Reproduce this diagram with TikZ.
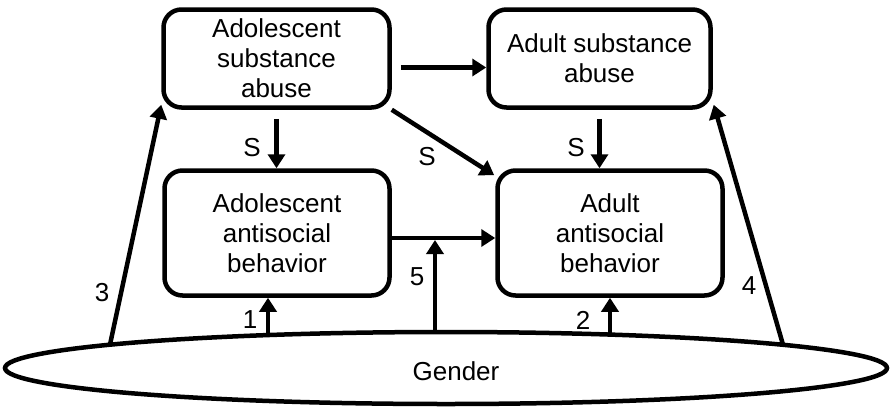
\documentclass[tikz,border=0pt]{standalone}
\usepackage{fontspec}
\setmainfont{Liberation Sans}
\usetikzlibrary{arrows.meta,shapes.geometric,calc}
\begin{document}
\begin{tikzpicture}[x=1pt,y=-1pt,
 box/.style={draw, line width=4.5pt, rounded corners=18pt, align=center, inner sep=0pt, font=\fontsize{26}{30}\selectfont},
 arr/.style={line width=4.5pt, -{Triangle[length=14pt,width=17pt]}},
 lbl/.style={font=\fontsize{26}{30}\selectfont, inner sep=0pt}]
\fill[white] (0,0) rectangle (892,408);
\useasboundingbox (0,0) rectangle (892,408);

\node[box, minimum width=226pt, minimum height=98pt] (A) at (276.5,58.5) {Adolescent\\substance\\abuse};
\node[box, minimum width=222pt, minimum height=98pt] (B) at (599.5,58.5) {Adult substance\\abuse};
\node[box, minimum width=225pt, minimum height=125pt] (C) at (277,233) {Adolescent\\antisocial\\behavior};
\node[box, minimum width=225pt, minimum height=125pt] (D) at (610,233) {Adult\\antisocial\\behavior};
\node[draw, ellipse, line width=4.5pt, minimum width=882pt, minimum height=72pt, inner sep=0pt,
  label={[lbl, xshift=10pt, yshift=-3pt]center:Gender}] (G) at (446,368) {};

\coordinate (g1) at (268,335);
\coordinate (g2) at (610,334.6);
\coordinate (g3) at (110,344.6);
\coordinate (g4) at (783,344.7);
\coordinate (g5) at (435,332);
\coordinate (j) at (435,240);

\draw[arr] ([xshift=9pt,yshift=-9pt]A.east) -- ([yshift=-9pt]B.west);
\draw[arr] ([yshift=-9pt]A.south) -- (A.south |- C.north);
\draw[arr] (A.south east) -- ($(D.north west)+(-1,7)$);
\draw[arr] ([yshift=-9pt]B.south) -- (B.south |- D.north);
\draw[arr] ([yshift=-5pt]C.east) -- ([yshift=-5pt]D.west);
\draw[arr] (g5) -- (j);
\draw[arr] (g1) -- (g1 |- C.south);
\draw[arr] (g2) -- (g2 |- D.south);
\draw[arr] (g3) -- ($(A.south west)+(0,-5)$);
\draw[arr] (g4) -- ($(B.south east)+(1,-5)$);

\node[lbl] (s1) at (252,148) {S};
\node[lbl] (s2) at (427,157) {S};
\node[lbl] (s3) at (576,148) {S};
\node[lbl] (n1) at (250,320) {1};
\node[lbl] (n2) at (583,320) {2};
\node[lbl] (n3) at (102,293) {3};
\node[lbl] (n4) at (749,286) {4};
\node[lbl] (n5) at (417,277) {5};
\end{tikzpicture}
\end{document}
